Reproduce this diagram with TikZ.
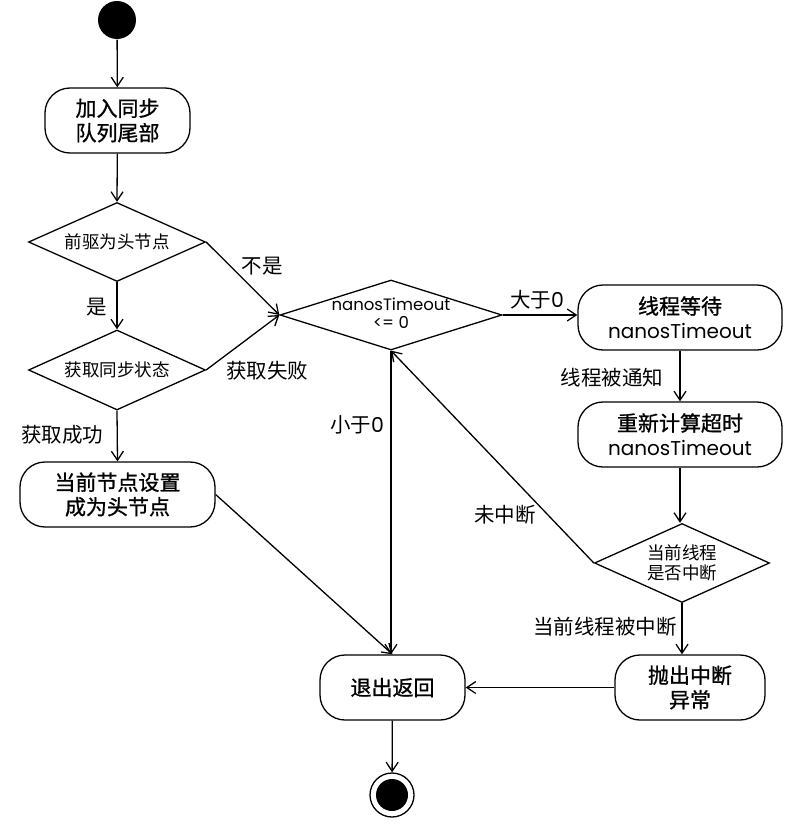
\documentclass[tikz,border=0pt]{standalone}
\usepackage{fontspec}
\setmainfont{Poppins}
\newfontfamily\cjk{Noto Sans CJK SC}
\newfontfamily\cjkb{Noto Sans CJK SC}[FakeBold=1]
\newfontfamily\lat{Poppins}
\usetikzlibrary{shapes.geometric,arrows.meta}
\begin{document}
\begin{tikzpicture}[x=1pt,y=-1pt,line width=1.3pt,
  >={Straight Barb[length=9pt,width=12pt]},
  box/.style={draw,rectangle,rounded corners=25pt,inner sep=0pt,align=center,
    minimum height=65pt,font=\fontsize{21}{24.5}\selectfont\cjkb},
  dia/.style={draw,diamond,inner sep=0pt},
  dtext/.style={font=\fontsize{17.5}{19.5}\selectfont\cjk,align=center,inner sep=0pt},
  lbl/.style={font=\fontsize{20.5}{22}\selectfont\cjk,inner sep=0pt},
  flow/.style={->}]
\useasboundingbox (0,0) rectangle (802,827);
% nodes
\node[circle,fill=black,minimum size=38pt,inner sep=0pt] (start) at (117,20) {};
\node[box,minimum width=145pt] (b1) at (117.5,120.5) {加入同步\\队列尾部};
\node[dia,minimum width=177pt,minimum height=79pt] (d1) at (117,242) {};
\node[dtext] at (d1.center) {前驱为头节点};
\node[dia,minimum width=177pt,minimum height=80pt] (d2) at (117,370) {};
\node[dtext] at (d2.center) {获取同步状态};
\node[box,minimum width=195pt] (b2) at (117.5,494.5) {当前节点设置\\成为头节点};
\node[dia,minimum width=222pt,minimum height=70pt] (d3) at (391,315) {};
\node[dtext,font=\fontsize{16.5}{18}\selectfont\lat] at (391,313) {nanosTimeout\\<= 0};
\node[box,minimum width=204pt] (b3) at (680,317.5) {线程等待\\{\lat\fontsize{20}{24}\selectfont nanosTimeout}};
\node[box,minimum width=204pt] (b4) at (680,434.5) {重新计算超时\\{\lat\fontsize{20}{24}\selectfont nanosTimeout}};
\node[dia,minimum width=175pt,minimum height=79pt] (d4) at (682,563) {};
\node[dtext] at (d4.center) {当前线程\\是否中断};
\node[box,minimum width=150pt] (b6) at (690,687.5) {抛出中断\\异常};
\node[box,minimum width=145pt] (ex) at (392.5,687.5) {退出返回};
\node[circle,draw,minimum size=44pt,inner sep=0pt] (end) at (392,795) {};
\fill (end.center) circle (16pt);
% connectors
\draw[flow] (start) -- (b1);
\draw[flow] (b1) -- (d1.north);
\draw[flow] (d1.south) -- (d2.north);
\draw[flow] (d1.east) -- (d3.west);
\draw[flow] (d2.east) -- (d3.west);
\draw[flow] (d2.south) -- (b2.north);
\draw[flow] (b2.east) -- (ex.north);
\draw[flow] (d3.east) -- (d3.east -| b3.west);
\draw[flow] (b3.south -| 680,0) -- (b4.north -| 680,0);
\draw[flow] (b4.south -| 680,0) -- (d4.north -| 680,0);
\draw[flow] (d4.west) -- (d3.south);
\draw[flow] (d4.south) -- (d4.south |- b6.north);
\draw[flow] (b6.west) -- (ex.east);
\draw[flow] (d3.south) -- (d3.south |- ex.north);
\draw[flow] (ex) -- (end);
% labels
\node[lbl] (l1) at (262,266) {不是};
\node[lbl] (l2) at (97,307) {是};
\node[lbl] (l3) at (267,371) {获取失败};
\node[lbl] (l4) at (62,435) {获取成功};
\node[lbl] (l5) at (357,425) {小于{\lat 0}};
\node[lbl] (l6) at (537,300) {大于{\lat 0}};
\node[lbl] (l7) at (612,378) {线程被通知};
\node[lbl] (l8) at (505,515) {未中断};
\node[lbl] (l9) at (605,627) {当前线程被中断};
\end{tikzpicture}
\end{document}
